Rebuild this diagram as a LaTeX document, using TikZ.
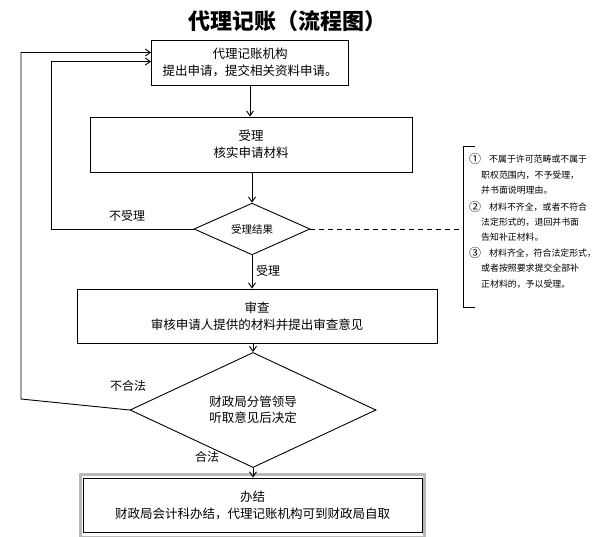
\documentclass[tikz,border=0pt]{standalone}
\usepackage{fontspec}
\setmainfont{Noto Sans CJK SC}
\usetikzlibrary{shapes.geometric,arrows.meta}
\begin{document}
\begin{tikzpicture}[x=1pt,y=-1pt,
  box/.style={draw,line width=0.9pt,rectangle,inner sep=0pt,align=center,font=\fontsize{12.5}{17}\selectfont},
  dia/.style={draw,line width=0.9pt,diamond,inner sep=0pt,align=center},
  arr/.style={line width=0.9pt,-{Straight Barb[length=5pt,width=7pt]}},
  conn/.style={line width=0.9pt},
  lbl/.style={font=\fontsize{12}{14}\selectfont,inner sep=0pt},
  note/.style={font=\fontsize{8.9}{11}\selectfont,inner sep=0pt,anchor=west},
  num/.style={font=\fontsize{12}{12}\selectfont,inner sep=0pt,anchor=west}]
\useasboundingbox (0,0) rectangle (600,536);
\fill[white] (0,0) rectangle (600,536);

\node[font=\fontsize{22}{24}\selectfont\bfseries] (title) at (287,21) {代理记账（流程图）};

\node[box,minimum width=197pt,minimum height=45pt] (b1) at (250,62.5) {代理记账机构\\提出申请，提交相关资料申请。};
\node[box,minimum width=322pt,minimum height=55pt] (b2) at (251,144.5) {受理\\核实申请材料};
\node[dia,minimum width=116pt,minimum height=51pt,font=\fontsize{10.5}{12}\selectfont] (d1) at (252,229) {受理结果};
\node[box,minimum width=360pt,minimum height=54pt] (b3) at (257,316) {审查\\审核申请人提供的材料并提出审查意见};
\node[dia,minimum width=246pt,minimum height=70pt,font=\fontsize{12.5}{16}\selectfont] (d2) at (253,410) {财政局分管领导\\听取意见后决定};
\draw[gray!55,line width=3pt] (80.5,474.5) rectangle (424.5,537);
\node[box,minimum width=339pt,minimum height=54pt] (b4) at (252.5,505) {办结\\财政局会计科办结，代理记账机构可到财政局自取};

\draw[arr] (b1.south) -- (b1.south |- b2.north);
\draw[arr] (b2.south -| d1.north) -- (d1.north);
\draw[arr] (d1.south) -- (d1.south |- b3.north);
\draw[arr] (b3.south -| d2.north) -- (d2.north);
\draw[arr] (d2.south) -- (d2.south |- b4.north);

\coordinate (c1) at (51,229);
\draw[arr] (d1.west) -- (c1) |- ([yshift=1pt]b1.west);
\coordinate (c2) at (21,399);
\draw[arr] (d2.west) -- (c2) |- ([yshift=10pt]b1.west);

\node[lbl] (l1) at (127,216) {不受理};
\node[lbl] (l2) at (268,271) {受理};
\node[lbl] (l3) at (128,386) {不合法};
\node[lbl] (l4) at (207,457) {合法};

\coordinate (br) at (463,229);
\draw[conn,dashed,dash pattern=on 5pt off 4pt] (d1.east) -- (br);
\draw[line width=0.8pt] (475,146) -- (463,146) -- (463,307) -- (475,307);

\node[num] (n1) at (469,159) {①};
\node[note] (n1a) at (489,159) {不属于许可范畴或不属于};
\node[note] (n1b) at (481,175) {职权范围内，不予受理，};
\node[note] (n1c) at (481,190) {并书面说明理由。};
\node[num] (n2) at (469,207) {②};
\node[note] (n2a) at (489,207) {材料不齐全，或者不符合};
\node[note] (n2b) at (481,222) {法定形式的，退回并书面};
\node[note] (n2c) at (481,237) {告知补正材料。};
\node[num] (n3) at (469,253) {③};
\node[note] (n3a) at (489,253) {材料齐全，符合法定形式，};
\node[note] (n3b) at (481,268) {或者按照要求提交全部补};
\node[note] (n3c) at (481,284) {正材料的，予以受理。};
\end{tikzpicture}
\end{document}
